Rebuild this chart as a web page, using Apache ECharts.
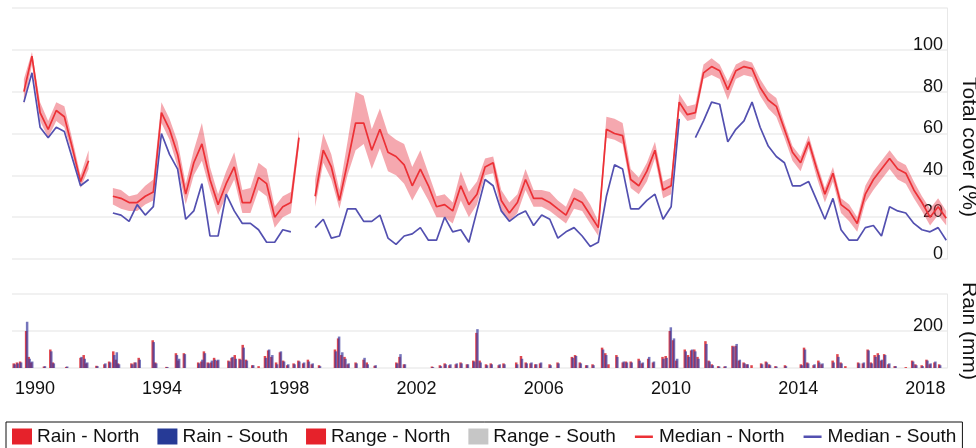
<!DOCTYPE html>
<html>
<head>
<meta charset="utf-8">
<script src="https://cdn.jsdelivr.net/npm/echarts@6/dist/echarts.min.js"></script>
<style>
  html, body { margin: 0; padding: 0; background: #fff; }
  #chart { width: 976px; height: 448px; }
</style>
</head>
<body>
<div id="chart"></div>
<script>
// seasonal cover values (one per season, null = no image)
const firstSeason = 1989.654;
const seasonStep = 0.2544;

const northMedian = [80, 97, 70, 62, 71, 68, 53, 37, 47, null, null,
  30, 29, 27, 27, 30, 32, 70, 62, 50, 31, 46, 55, 38, 26, 36, 44, 27, 27, 39, 36, 20, 25, 27, 58,
  null,
  30, 52, 44, 28, 46, 65, 65, 52, 62, 51, 49, 45, 35, 43, 35, 25, 26, 23, 35, 26,
  31, 44, 46, 28, 22, 27, 38, 29, 29, 27, 24, 21, 29, 27, 21, 15, 62, 60, 59, 38,
  35, 42, 52, 33, 35, 75, 69, 70, 89, 92, 90, 81, 90, 92, 91, 82, 76, 73, 62, 51,
  46, 56, 43, 31, 41, 26, 23, 17, 31, 38, 43, 48, 43, 41, 33, 27, 20, 25, 19.5];

const northLow = [74, 93, 66, 58, 66, 63, 50, 34, 43, null, null,
  26, 24, 23, 23, 26, 28, 65, 57, 44, 26, 40, 47, 33, 21, 30, 38, 22, 22, 33, 30, 15, 20, 22, 54,
  null,
  25, 46, 38, 24, 40, 52, 55, 43, 53, 42, 40, 36, 28, 35, 28, 20, 20, 17, 28, 20,
  26, 40, 41, 23, 18, 22, 33, 25, 25, 23, 20, 17, 24, 23, 17, 11, 58, 57, 55, 34,
  31, 37, 48, 29, 31, 71, 66, 67, 86, 88, 86, 76, 86, 88, 87, 78, 72, 68, 58, 47,
  42, 53, 39, 27, 37, 22, 18, 13, 27, 33, 38, 43, 38, 36, 29, 23, 16, 21, 16];

const northHigh = [86, 99, 75, 66, 75, 73, 57, 40, 52, null, null,
  34, 33, 30, 31, 35, 38, 75, 67, 56, 36, 52, 65, 44, 31, 42, 51, 33, 34, 46, 43, 25, 30, 32, 62,
  null,
  38, 60, 50, 33, 56, 80, 78, 62, 72, 60, 57, 55, 44, 52, 41, 30, 31, 27, 42, 32,
  37, 48, 49, 33, 27, 31, 43, 33, 33, 32, 28, 25, 34, 32, 26, 18, 68, 67, 65, 43,
  39, 46, 56, 37, 39, 79, 73, 74, 93, 96, 93, 85, 93, 95, 94, 86, 80, 77, 65, 54,
  49, 59, 46, 34, 44, 29, 26, 20, 35, 42, 47, 52, 47, 45, 37, 30, 24, 29, 23];

const southMedian = [75, 89, 63, 58, 63, 61, 48, 35, 38, null, null,
  22, 21, 18, 26, 21, 25, 60, 50, 43, 19, 23, 36, 11, 11, 31, 23, 17, 17, 14, 8, 8, 14, 13, null,
  null,
  15, 19, 10, 11, 24, 24, 18, 18, 21, 10, 7, 11, 12, 15, 9, 9, 20, 13, 14, 8,
  23, 38, 35, 23, 18, 21, 23, 16, 21, 19, 10, 13, 15, 11, 6, 8, 30, 45, 43, 24,
  24, 28, 31, 19, 25, 67, null, 58, 66, 75, 74, 56, 62, 66, 75, 63, 54, 49, 46, 35,
  35, 37, 28, 19, 29, 14, 9, 9, 15, 16, 11, 25, 23, 22, 17, 14, 13, 15, 9];

// monthly rain [year, mm]
const rainNorth = [[1989.35, 25], [1989.45, 30], [1989.55, 35], [1989.74, 200], [1989.82, 60], [1989.9, 30],
  [1990.3, 8], [1990.5, 100], [1990.58, 30], [1991.0, 6], [1991.45, 55], [1991.55, 70], [1991.63, 25], [1991.95, 12],
  [1992.2, 20], [1992.35, 35], [1992.48, 90], [1992.56, 45], [1992.63, 25], [1993.05, 25], [1993.15, 30], [1993.28, 55],
  [1993.72, 150], [1993.8, 30], [1994.15, 6], [1994.45, 80], [1994.52, 40], [1994.7, 80],
  [1995.15, 30], [1995.25, 35], [1995.33, 90], [1995.45, 30], [1995.55, 30], [1995.65, 55], [1995.75, 40],
  [1996.1, 40], [1996.2, 55], [1996.3, 70], [1996.45, 50], [1996.55, 125], [1996.65, 45], [1996.85, 15],
  [1997.05, 10], [1997.25, 65], [1997.35, 95], [1997.45, 60], [1997.6, 30], [1997.72, 85], [1997.82, 40], [1997.95, 15],
  [1998.15, 25], [1998.3, 40], [1998.45, 25], [1998.6, 45], [1998.72, 20], [1998.95, 15],
  [1999.45, 100], [1999.55, 160], [1999.65, 70], [1999.75, 60], [1999.85, 20],
  [2000.1, 30], [2000.35, 45], [2000.45, 30], [2000.7, 12], [2001.38, 30], [2001.48, 60], [2001.62, 20],
  [2002.5, 8], [2002.75, 15], [2002.9, 25], [2003.05, 15], [2003.25, 20], [2003.4, 30], [2003.6, 20], [2003.8, 40],
  [2003.9, 190], [2004.0, 40], [2004.2, 20], [2004.35, 25], [2004.6, 15], [2004.75, 25],
  [2005.15, 30], [2005.3, 65], [2005.45, 30], [2005.6, 25], [2005.75, 20], [2005.9, 25], [2006.2, 20], [2006.45, 30],
  [2006.9, 60], [2007.0, 70], [2007.15, 30], [2007.35, 15], [2007.55, 20], [2007.85, 110], [2007.95, 80], [2008.05, 20],
  [2008.3, 70], [2008.5, 30], [2008.6, 35], [2008.75, 35], [2009.0, 50], [2009.1, 25], [2009.3, 50], [2009.45, 30],
  [2009.75, 60], [2009.85, 65], [2009.98, 200], [2010.08, 150], [2010.18, 40],
  [2010.45, 100], [2010.55, 70], [2010.65, 95], [2010.75, 100], [2010.85, 60],
  [2011.1, 145], [2011.2, 40], [2011.3, 20], [2011.5, 10], [2011.7, 8],
  [2011.95, 120], [2012.05, 120], [2012.15, 40], [2012.3, 30], [2012.4, 20], [2012.55, 15],
  [2012.85, 25], [2013.0, 35], [2013.1, 20], [2013.3, 10], [2013.6, 15],
  [2014.1, 20], [2014.2, 110], [2014.3, 30], [2014.5, 15], [2014.65, 40], [2014.75, 20],
  [2015.1, 40], [2015.25, 75], [2015.35, 30], [2015.5, 10],
  [2015.9, 30], [2016.05, 25], [2016.2, 100], [2016.3, 30], [2016.42, 70], [2016.52, 80], [2016.62, 40], [2016.72, 75],
  [2016.85, 20], [2017.05, 10], [2017.4, 5], [2017.6, 40], [2017.7, 20], [2017.9, 15],
  [2018.05, 45], [2018.15, 20], [2018.3, 30], [2018.45, 20]];

const rainSouth = [[1989.35, 20], [1989.45, 25], [1989.55, 30], [1989.74, 250], [1989.82, 50], [1989.9, 35],
  [1990.3, 10], [1990.5, 90], [1990.58, 25], [1991.0, 8], [1991.45, 60], [1991.55, 50], [1991.63, 30], [1991.95, 10],
  [1992.2, 25], [1992.35, 30], [1992.48, 70], [1992.56, 85], [1992.63, 20], [1993.05, 20], [1993.15, 30], [1993.28, 45],
  [1993.72, 140], [1993.8, 25], [1994.15, 5], [1994.45, 70], [1994.52, 50], [1994.7, 75],
  [1995.15, 25], [1995.25, 45], [1995.33, 80], [1995.45, 25], [1995.55, 40], [1995.65, 45], [1995.75, 45],
  [1996.1, 35], [1996.2, 60], [1996.3, 50], [1996.45, 45], [1996.55, 110], [1996.65, 40], [1996.85, 15],
  [1997.25, 55], [1997.35, 100], [1997.45, 70], [1997.6, 20], [1997.72, 90], [1997.82, 35], [1997.95, 20],
  [1998.15, 20], [1998.3, 35], [1998.45, 30], [1998.6, 35], [1998.72, 25], [1998.95, 10],
  [1999.45, 90], [1999.55, 170], [1999.65, 85], [1999.75, 50], [1999.85, 25],
  [2000.1, 25], [2000.35, 55], [2000.45, 20], [2000.7, 15], [2001.38, 25], [2001.48, 75], [2001.62, 20],
  [2002.5, 5], [2002.75, 10], [2002.9, 20], [2003.05, 20], [2003.25, 25], [2003.4, 25], [2003.6, 20], [2003.8, 35],
  [2003.9, 210], [2004.0, 30], [2004.2, 15], [2004.35, 20], [2004.6, 20], [2004.75, 20],
  [2005.15, 20], [2005.3, 50], [2005.45, 25], [2005.6, 30], [2005.75, 20], [2005.9, 30], [2006.2, 15], [2006.45, 25],
  [2006.9, 55], [2007.0, 65], [2007.15, 25], [2007.35, 15], [2007.55, 15], [2007.85, 100], [2007.95, 70],
  [2008.3, 60], [2008.5, 35], [2008.6, 30], [2008.75, 30], [2009.0, 40], [2009.1, 30], [2009.3, 60], [2009.45, 35],
  [2009.75, 50], [2009.85, 55], [2009.98, 220], [2010.08, 160], [2010.18, 50],
  [2010.45, 90], [2010.55, 60], [2010.65, 100], [2010.75, 90], [2010.85, 50],
  [2011.1, 130], [2011.2, 35], [2011.3, 15], [2011.5, 8], [2011.7, 10],
  [2011.95, 115], [2012.05, 130], [2012.15, 45], [2012.3, 25], [2012.4, 20],
  [2012.85, 20], [2013.0, 30], [2013.1, 15], [2013.3, 8], [2013.6, 10],
  [2014.1, 15], [2014.2, 100], [2014.3, 25], [2014.5, 20], [2014.65, 30], [2014.75, 25],
  [2015.1, 30], [2015.25, 60], [2015.35, 25],
  [2015.9, 25], [2016.05, 30], [2016.2, 95], [2016.3, 25], [2016.42, 60], [2016.52, 70], [2016.62, 45], [2016.72, 70],
  [2016.85, 25], [2017.05, 10], [2017.6, 35], [2017.7, 15], [2017.9, 10],
  [2018.05, 40], [2018.15, 25], [2018.3, 35], [2018.45, 15]];

const yearTicks = [1990, 1994, 1998, 2002, 2006, 2010, 2014, 2018];

const seasons = northMedian.map((v, i) => +(firstSeason + i * seasonStep).toFixed(3));
const pairs = arr => arr.map((v, i) => [seasons[i], v]);
const bandData = seasons.map((t, i) => [t, northLow[i], northHigh[i]]);

const font = 'Liberation Sans, Arial, Helvetica, sans-serif';
const xMin = 1989.28, xMax = 2018.68;
const lineIcon = 'path://M0,0L0,0M1,7L19,7L19,9.5L1,9.5ZM20,16L20,16';

// one polygon per unbroken run of seasons
function renderBand(params, api) {
  const i = params.dataIndex;
  if (northLow[i] == null || (i > 0 && northLow[i - 1] != null)) return null;
  let j = i;
  while (j < northLow.length && northLow[j] != null) j++;
  const top = [], bottom = [];
  for (let k = i; k < j; k++) {
    top.push(api.coord([seasons[k], northHigh[k]]));
    bottom.unshift(api.coord([seasons[k], northLow[k]]));
  }
  return {
    type: 'polygon',
    shape: { points: top.concat(bottom) },
    style: { fill: 'rgba(232, 62, 78, 0.45)' }
  };
}

const chart = echarts.init(document.getElementById('chart'));
const option = {
  animation: false,
  textStyle: { fontFamily: font },
  grid: [
    { left: 12, right: 29, top: 8, height: 251, outerBoundsMode: 'none' },
    { left: 12, right: 29, top: 294, height: 74, outerBoundsMode: 'none' }
  ],
  xAxis: [
    { gridIndex: 0, type: 'value', min: xMin, max: xMax,
      axisLine: { show: false }, axisTick: { show: false }, axisLabel: { show: false }, splitLine: { show: false } },
    { gridIndex: 1, type: 'value', min: xMin, max: xMax,
      axisLine: { show: false }, axisTick: { show: false }, splitLine: { show: false },
      axisLabel: { customValues: yearTicks, fontSize: 18, color: '#111', margin: 12, formatter: v => String(v) } }
  ],
  yAxis: [
    { gridIndex: 0, type: 'value', position: 'right', min: 0, max: 120, interval: 20,
      name: 'Total cover (%)', nameLocation: 'middle', nameRotate: -90, nameGap: 11,
      nameTextStyle: { fontSize: 21, color: '#111', padding: [0, 0, 0, 27] },
      axisLine: { show: true, lineStyle: { color: '#e8e8e8', width: 1 } }, axisTick: { show: false },
      axisLabel: { inside: true, verticalAlign: 'bottom', lineHeight: 10, margin: 4, fontSize: 18, color: '#111',
        formatter: v => v === 120 ? '' : String(v) },
      splitLine: { lineStyle: { color: '#ececec', width: 1.5 } } },
    { gridIndex: 1, type: 'value', position: 'right', min: 0, max: 400, interval: 200,
      name: 'Rain (mm)', nameLocation: 'middle', nameRotate: -90, nameGap: 11,
      nameTextStyle: { fontSize: 21, color: '#111' },
      axisLine: { show: true, lineStyle: { color: '#e8e8e8', width: 1 } }, axisTick: { show: false },
      axisLabel: { inside: true, verticalAlign: 'bottom', lineHeight: 10, margin: 4, fontSize: 18, color: '#111',
        formatter: v => v === 200 ? '200' : '' },
      splitLine: { lineStyle: { color: '#ececec', width: 1.5 } } }
  ],
  legend: {
    left: 6, top: 422,
    borderColor: '#111', borderWidth: 1, borderRadius: 0,
    padding: [5, 6, 5, 6],
    itemWidth: 20, itemHeight: 16, itemGap: 18,
    textStyle: { fontSize: 19, color: '#111', fontFamily: font },
    data: [
      { name: 'Rain - North', icon: 'rect', itemStyle: { color: '#e6222b', opacity: 1 } },
      { name: 'Rain - South', icon: 'rect', itemStyle: { color: '#263a96', opacity: 1 } },
      { name: 'Range - North', icon: 'rect', itemStyle: { color: '#e6222b', opacity: 1 } },
      { name: 'Range - South', icon: 'rect', itemStyle: { color: '#c6c6c6', opacity: 1 } },
      { name: 'Median - North', icon: lineIcon, itemStyle: { color: '#ec3136', opacity: 1 } },
      { name: 'Median - South', icon: lineIcon, itemStyle: { color: '#5350b0', opacity: 1 } }
    ]
  },
  series: [
    { name: 'Rain - North', type: 'bar', xAxisIndex: 1, yAxisIndex: 1, barWidth: 2.5, barGap: '-60%',
      itemStyle: { color: '#d9262f', opacity: 0.85 }, data: rainNorth },
    { name: 'Rain - South', type: 'bar', xAxisIndex: 1, yAxisIndex: 1, barWidth: 2.5, barGap: '-60%',
      itemStyle: { color: '#3b3b9e', opacity: 0.7 }, data: rainSouth },
    { name: 'Range - North', type: 'custom', xAxisIndex: 0, yAxisIndex: 0, renderItem: renderBand,
      itemStyle: { color: '#e6222b' }, encode: { x: 0, y: [1, 2] }, clip: true, data: bandData },
    { name: 'Range - South', type: 'line', xAxisIndex: 0, yAxisIndex: 0, symbol: 'none',
      itemStyle: { color: '#c6c6c6' }, data: [] },
    { name: 'Median - North', type: 'line', xAxisIndex: 0, yAxisIndex: 0, symbol: 'none',
      itemStyle: { color: '#ec3136' }, lineStyle: { color: '#ec3136', width: 1.7 }, data: pairs(northMedian) },
    { name: 'Median - South', type: 'line', xAxisIndex: 0, yAxisIndex: 0, symbol: 'none',
      itemStyle: { color: '#5350b0' }, lineStyle: { color: '#5350b0', width: 1.7 }, data: pairs(southMedian) }
  ]
};
chart.setOption(option);
</script>
</body>
</html>
